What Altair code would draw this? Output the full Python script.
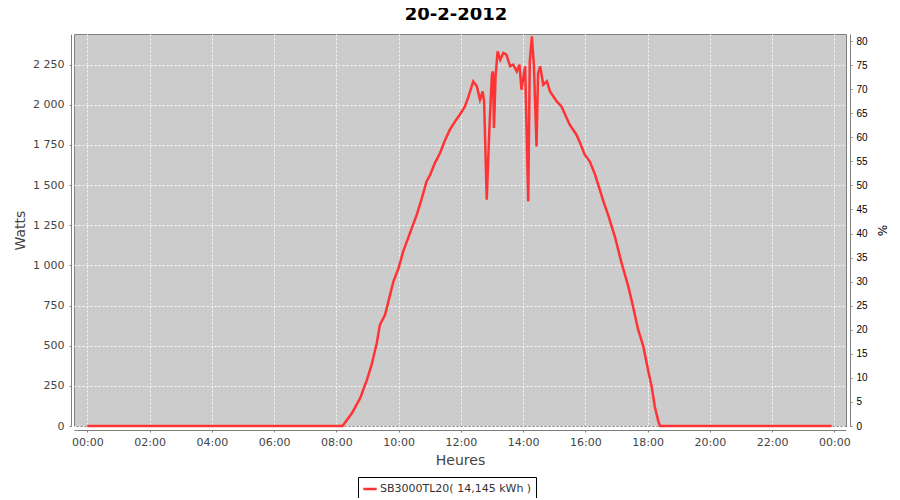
import altair as alt
import pandas as pd

title_text = "20-2-2012"
series_name = "SB3000TL20( 14,145 kWh )"

times = ["00:00", "08:12", "08:30", "08:46", "08:59", "09:08", "09:18", "09:24", "09:34",
         "09:50", "10:00", "10:09", "10:22", "10:35", "10:45", "10:54", "11:01", "11:10",
         "11:20", "11:30", "11:39", "11:49", "11:58", "12:08", "12:14", "12:24", "12:31",
         "12:37", "12:42", "12:45", "12:50", "12:55", "13:00", "13:02", "13:04", "13:07",
         "13:11", "13:16", "13:22", "13:28", "13:35", "13:41", "13:48", "13:53", "13:57",
         "14:00", "14:04", "14:10", "14:13", "14:17", "14:21", "14:26", "14:29", "14:33",
         "14:39", "14:46", "14:52", "15:05", "15:14", "15:30", "15:43", "15:50", "15:59",
         "16:09", "16:19", "16:35", "16:44", "16:57", "17:10", "17:23", "17:32", "17:42",
         "17:52", "18:01", "18:08", "18:14", "18:21", "18:24", "23:55"]
watts = [0, 0, 79, 173, 287, 380, 515, 630, 692,
         899, 983, 1087, 1201, 1315, 1419, 1523, 1564, 1637,
         1700, 1783, 1845, 1897, 1938, 1990, 2043, 2146, 2115,
         2032, 2084, 2021, 1409, 1845, 2188, 2208, 1856, 2177,
         2333, 2281, 2323, 2312, 2240, 2250, 2208, 2250, 2094,
         2157, 2240, 1398, 2271, 2427, 2240, 1741, 2198, 2240,
         2125, 2146, 2084, 2021, 1990, 1876, 1814, 1762, 1689,
         1645, 1564, 1398, 1315, 1180, 1014, 868, 744, 598,
         494, 349, 245, 120, 27, 0, 0]

x_ticks = [0, 2, 4, 6, 8, 10, 12, 14, 16, 18, 20, 22, 24]
y_ticks = [0, 250, 500, 750, 1000, 1250, 1500, 1750, 2000, 2250]
pct_ticks = [0, 5, 10, 15, 20, 25, 30, 35, 40, 45, 50, 55, 60, 65, 70, 75, 80]

x_domain = [-0.427, 24.376]
y_domain = [0, 2441]
pct_domain = [0, 81.46]

def to_hours(t):
    h, m = t.split(":")
    return int(h) + int(m) / 60.0

df = pd.DataFrame({
    "h": [to_hours(t) for t in times],
    "w": watts,
    "s": [series_name] * len(times),
})
pct_df = pd.DataFrame({"p": [0]})

axis_common = dict(
    domainColor="#808080", tickColor="#808080", tickSize=2,
    gridColor="#f8f8f8", gridDash=[2, 2], gridWidth=1,
    labelFont="DejaVu Sans", labelFontSize=11, labelColor="#444444",
    titleFont="DejaVu Sans", titleFontSize=14, titleFontWeight="normal",
    titleColor="#444444",
)

line = alt.Chart(df).mark_line(strokeWidth=2.5, interpolate="linear").encode(
    x=alt.X("h:Q", scale=alt.Scale(domain=x_domain, nice=False, zero=False),
            axis=alt.Axis(values=x_ticks, title="Heures", offset=4, labelPadding=4,
                          labelExpr="(datum.value % 24 < 10 ? '0' : '') + (datum.value % 24) + ':00'",
                          titlePadding=6, **axis_common)),
    y=alt.Y("w:Q", scale=alt.Scale(domain=y_domain, nice=False),
            axis=alt.Axis(values=y_ticks, title="Watts", offset=3, labelPadding=5,
                          labelExpr="replace(format(datum.value, ','), ',', ' ')",
                          titlePadding=5, **axis_common)),
    color=alt.Color("s:N", scale=alt.Scale(range=["#ff3333"]),
                    legend=alt.Legend(title=None, orient="none", legendX=284, legendY=443,
                                      strokeColor="black", fillColor="white", padding=4,
                                      cornerRadius=0, symbolType="stroke",
                                      symbolStrokeWidth=2.5, symbolSize=180,
                                      labelFont="DejaVu Sans", labelFontSize=11,
                                      labelColor="#333333", labelLimit=0, labelOffset=2)),
)

pct = alt.Chart(pct_df).mark_point(opacity=0).encode(
    y=alt.Y("p:Q", scale=alt.Scale(domain=pct_domain, nice=False),
            axis=alt.Axis(values=pct_ticks, title="%", orient="right", offset=4,
                          grid=False, domainColor="#808080", tickColor="#808080", tickSize=2,
                          labelFont="Liberation Sans", labelFontSize=10, labelColor="#000000",
                          labelPadding=4, titleFont="DejaVu Sans", titleFontSize=12,
                          titleFontWeight="normal", titleColor="#000000", titlePadding=7)),
)

chart = alt.layer(line, pct).resolve_scale(y="independent").properties(
    width=772, height=392,
    autosize=alt.AutoSizeParams(type="none"),
    padding={"left": 66, "top": 26, "right": 46, "bottom": 72},
    title=alt.TitleParams(title_text, font="DejaVu Sans", fontSize=18, fontWeight="bold",
                          color="#000000", offset=7, dx=-4),
).configure_view(fill="#cccccc", stroke="#808080", strokeWidth=1)

chart.save("out.html", embed_options={"renderer": "svg", "actions": False})
